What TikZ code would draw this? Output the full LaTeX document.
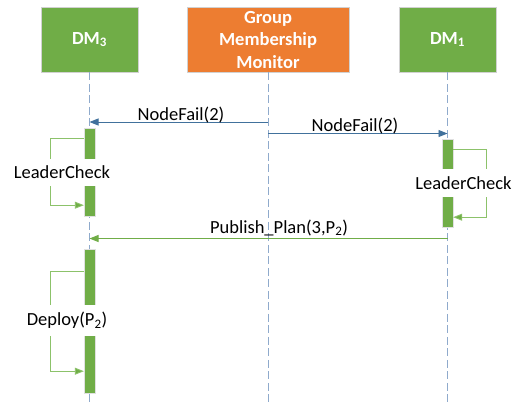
\documentclass[tikz,border=0pt]{standalone}
\usepackage{fontspec}
\setmainfont{Carlito}
\usetikzlibrary{arrows.meta, positioning}

\definecolor{dmgreen}{HTML}{70AD47}
\definecolor{gmorange}{HTML}{ED7D31}
\definecolor{msgblue}{HTML}{41719C}
\definecolor{lifeblue}{HTML}{8FAACC}
\definecolor{loopgreen}{HTML}{8CC26A}

\begin{document}
\begin{tikzpicture}[
        x=1pt, y=-1pt,
        >={Triangle[length=9pt, width=7pt]},
        every node/.style={font=\fontsize{18.5}{22.5}\selectfont},
        actor/.style={draw=black!18, line width=0.6pt, rectangle, minimum height=65pt, align=center, text=white, inner sep=0pt, font=\fontsize{18.5}{22.5}\selectfont\bfseries},
        lifeline/.style={draw=lifeblue, line width=0.9pt, dash pattern=on 8pt off 3.5pt},
        bar/.style={fill=dmgreen, draw=black!12, line width=0.4pt, minimum width=11pt, inner sep=0pt},
        msg/.style={->, line width=0.9pt},
        selfloop/.style={->, draw=loopgreen, line width=0.9pt, >={Triangle[length=9pt, width=7pt, fill=dmgreen]}},
        looplabel/.style={fill=white, inner xsep=2pt, inner ysep=7.5pt},
        msglabel/.style={anchor=base, inner sep=0pt}
    ]
        \useasboundingbox (0,0) rectangle (532,402);

        % Actors
        \node [actor, fill=dmgreen, minimum width=97pt] (dm3) at (89.5,39.5) {DM\textsubscript{3}};
        \node [actor, fill=gmorange, minimum width=162pt] (gmm) at (268,39.5) {Group\\Membership\\Monitor};
        \node [actor, fill=dmgreen, minimum width=97pt] (dm1) at (447.5,39.5) {DM\textsubscript{1}};

        % Lifelines
        \coordinate (dm3end) at (89.5,402);
        \coordinate (gmmend) at (268,402);
        \coordinate (dm1end) at (447.5,402);
        \draw [lifeline] (dm3.south) -- (dm3end);
        \draw [lifeline] (gmm.south) -- (gmmend);
        \draw [lifeline] (dm1.south) -- (dm1end);

        % Activation bars
        \node [bar, minimum height=88pt] (act3a) at (89.5,172) {};
        \node [bar, minimum height=88pt] (act1) at (447.5,183) {};
        \node [bar, minimum height=144pt] (act3b) at (89.5,321) {};

        % Messages
        \coordinate (fail3s) at (268,122);
        \coordinate (fail3e) at (89.5,122);
        \coordinate (fail1s) at (268,133.5);
        \coordinate (fail1e) at (447.5,133.5);
        \coordinate (plans) at (447.5,238.5);
        \coordinate (plane) at (89.5,238.5);
        \draw [msg, msgblue] (fail3s) -- (fail3e);
        \draw [msg, msgblue] (fail1s) -- (fail1e);
        \draw [msg, dmgreen] (plans) -- (plane);
        \node [msglabel] (fail3lbl) at (181,120.5) {NodeFail(2)};
        \node [msglabel] (fail1lbl) at (355,131) {NodeFail(2)};
        \node [msglabel] (planlbl) at (279,233) {Publish\_Plan(3,P\textsubscript{2})};

        % Self calls
        \draw [selfloop] ([yshift=-11pt]act3a.north west) -- ++(-33,0) |- ([yshift=11pt]act3a.south west);
        \draw [selfloop] ([yshift=-11pt]act1.north east) -- ++(33,0) |- ([yshift=10pt]act1.south east);
        \draw [selfloop] ([yshift=-22.5pt]act3b.north west) -- ++(-33,0) |- ([yshift=22pt]act3b.south west);
        \node [looplabel] (check3) at (62,172.5) {LeaderCheck};
        \node [looplabel] (check1) at (463.5,183) {LeaderCheck};
        \node [looplabel] (deploy) at (67,320.5) {Deploy(P\textsubscript{2})};
    \end{tikzpicture}
\end{document}
